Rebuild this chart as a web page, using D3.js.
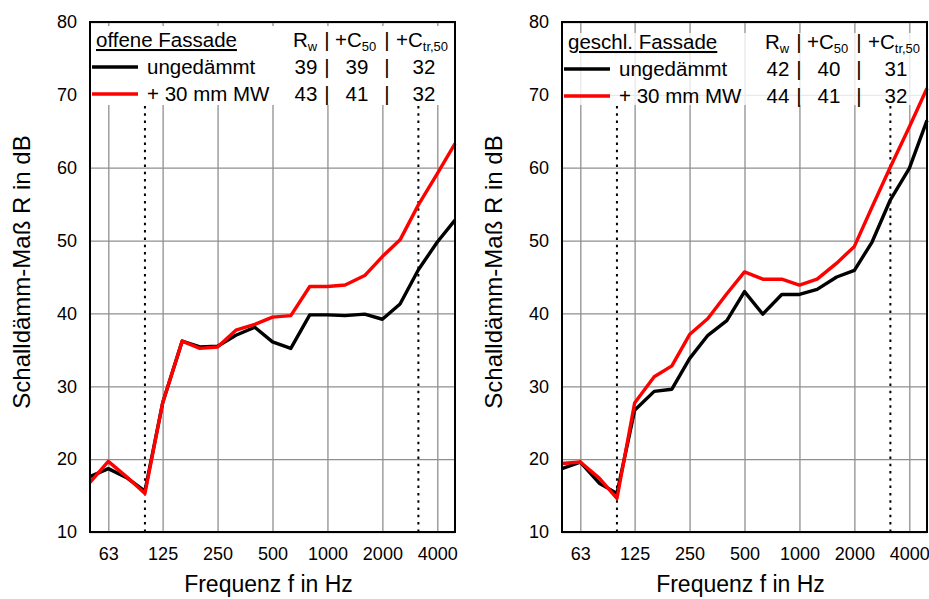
<!DOCTYPE html>
<html>
<head>
<meta charset="utf-8">
<script src="https://cdn.jsdelivr.net/npm/d3@7"></script>
<style>
  html, body { margin: 0; padding: 0; background: #fff; }
  svg { display: block; font-family: "Liberation Sans", Arial, sans-serif; }
</style>
</head>
<body>
<div id="chart"></div>
<script>
// third-octave bands 50 Hz .. 5000 Hz
const FREQS = [50, 63, 80, 100, 125, 160, 200, 250, 315, 400, 500, 630, 800, 1000, 1250, 1600, 2000, 2500, 3150, 4000, 5000];
const X_TICKS = [63, 125, 250, 500, 1000, 2000, 4000];
const Y_TICKS = [10, 20, 30, 40, 50, 60, 70, 80];
const MARK_FREQS = [100, 3150];

// offene Fassade
const OFFEN_UNGED = [17.6, 18.7, 17.4, 15.6, 27.7, 36.2, 35.4, 35.5, 37.0, 38.1, 36.1, 35.2, 39.8, 39.8, 39.7, 39.9, 39.2, 41.3, 46.0, 49.8, 52.8];
const OFFEN_MW    = [16.8, 19.7, 17.5, 15.3, 27.7, 36.2, 35.2, 35.4, 37.7, 38.5, 39.5, 39.7, 43.7, 43.7, 43.9, 45.2, 47.8, 50.1, 54.9, 59.2, 63.3];
// geschlossene Fassade
const GESCHL_UNGED = [18.7, 19.6, 16.7, 15.3, 26.7, 29.3, 29.6, 33.8, 37.0, 39.0, 43.0, 39.9, 42.6, 42.6, 43.3, 45.0, 45.9, 49.8, 55.6, 59.9, 66.5];
const GESCHL_MW    = [19.4, 19.6, 17.4, 14.6, 27.7, 31.3, 32.8, 37.1, 39.3, 42.7, 45.7, 44.7, 44.7, 43.9, 44.7, 46.9, 49.2, 54.6, 60.1, 65.6, 70.9];

// single-number ratings: Rw, +C50, +Ctr,50
const OFFEN_RATINGS_UNGED  = [39, 39, 32];
const OFFEN_RATINGS_MW     = [43, 41, 32];
const GESCHL_RATINGS_UNGED = [42, 40, 31];
const GESCHL_RATINGS_MW    = [44, 41, 32];

const W = 929, H = 599;
const TOP = 22, BOTTOM = 532, PW = 365;

const svg = d3.select("#chart").append("svg")
  .attr("width", W)
  .attr("height", H)
  .attr("viewBox", [0, 0, W, H]);

function drawPanel(p) {
  const L = p.left;
  const g = svg.append("g");

  const x = d3.scaleLog().domain([50, 5000]).range([L, L + PW]);
  const y = d3.scaleLinear().domain([10, 80]).range([BOTTOM, TOP]);

  // grid + tick labels
  const gx = g.append("g")
    .attr("transform", `translate(0,${BOTTOM})`)
    .call(d3.axisBottom(x).tickValues(X_TICKS).tickFormat(d3.format("d"))
      .tickSize(-(BOTTOM - TOP)).tickSizeOuter(0).tickPadding(15));
  const gy = g.append("g")
    .attr("transform", `translate(${L},0)`)
    .call(d3.axisLeft(y).tickValues(Y_TICKS)
      .tickSize(-PW).tickSizeOuter(0).tickPadding(13));

  [gx, gy].forEach(a => {
    a.select(".domain").remove();
    a.selectAll(".tick line").attr("stroke", "#8f8f8f").attr("stroke-width", 1.3);
    a.selectAll(".tick text")
      .attr("font-size", 18)
      .attr("font-family", "Liberation Sans, Arial, sans-serif")
      .attr("fill", "#000");
  });

  // legend background
  g.append("rect")
    .attr("x", L + 1).attr("y", p.bgTop)
    .attr("width", PW - 2).attr("height", 105 - p.bgTop)
    .attr("fill", "#fff")
    .attr("fill-opacity", p.bgOpacity);

  // dotted markers
  MARK_FREQS.forEach(f => {
    g.append("line")
      .attr("x1", x(f)).attr("x2", x(f))
      .attr("y1", 106).attr("y2", BOTTOM)
      .attr("stroke", "#000")
      .attr("stroke-width", 2)
      .attr("stroke-dasharray", "2.5,4.8");
  });

  const line = d3.line()
    .x((d, i) => x(FREQS[i]))
    .y(d => y(d));

  p.series.forEach(s => {
    g.append("path")
      .datum(s.values)
      .attr("fill", "none")
      .attr("stroke", s.color)
      .attr("stroke-width", 3.4)
      .attr("stroke-linejoin", "round")
      .attr("d", line);
  });

  // frame
  g.append("rect")
    .attr("x", L).attr("y", TOP)
    .attr("width", PW).attr("height", BOTTOM - TOP)
    .attr("fill", "none")
    .attr("stroke", "#000")
    .attr("stroke-width", 2);

  // axis titles
  g.append("text")
    .attr("x", L + PW / 2 - 4)
    .attr("y", 592)
    .attr("text-anchor", "middle")
    .attr("font-size", 23)
    .text("Frequenz f in Hz");

  g.append("text")
    .attr("transform", `translate(${L - 60},${(TOP + BOTTOM) / 2 - 5}) rotate(-90)`)
    .attr("text-anchor", "middle")
    .attr("font-size", 24)
    .text("Schalldämm-Maß R in dB");

  // legend
  const lg = g.append("g").attr("font-size", 20.5).attr("fill", "#000");
  const ty = p.legendY;

  lg.append("text")
    .attr("x", L + 6).attr("y", ty)
    .attr("text-decoration", "underline")
    .text(p.title);

  const hdr = [
    { x: L + 203, main: "R", sub: "w" },
    { x: L + 245, main: "+C", sub: "50" },
    { x: L + 306, main: "+C", sub: "tr,50" }
  ];
  hdr.forEach(h => {
    const t = lg.append("text").attr("x", h.x).attr("y", ty).text(h.main);
    t.append("tspan").attr("dy", 4).attr("font-size", 13).text(h.sub);
  });
  [L + 237, L + 297].forEach(bx => {
    lg.append("text").attr("x", bx).attr("y", ty).attr("text-anchor", "middle").text("|");
  });

  p.series.forEach((s, i) => {
    const ry = ty + 27 * (i + 1);
    lg.append("line")
      .attr("x1", L + 2).attr("x2", L + 48)
      .attr("y1", ry - 7).attr("y2", ry - 7)
      .attr("stroke", s.color)
      .attr("stroke-width", 3.4);
    lg.append("text").attr("x", L + 57).attr("y", ry).text(s.label);

    [L + 216, L + 267, L + 334].forEach((cx, k) => {
      lg.append("text").attr("x", cx).attr("y", ry)
        .attr("text-anchor", "middle").text(s.ratings[k]);
    });
    [L + 237, L + 297].forEach(bx => {
      lg.append("text").attr("x", bx).attr("y", ry)
        .attr("text-anchor", "middle").text("|");
    });
  });
}

drawPanel({
  left: 90,
  title: "offene Fassade",
  legendY: 47,
  bgTop: 26,
  bgOpacity: 1,
  series: [
    { label: "ungedämmt",   color: "#000000", values: OFFEN_UNGED, ratings: OFFEN_RATINGS_UNGED },
    { label: "+ 30 mm MW",  color: "#ff0000", values: OFFEN_MW,    ratings: OFFEN_RATINGS_MW }
  ]
});

drawPanel({
  left: 562,
  title: "geschl. Fassade",
  legendY: 49,
  bgTop: 33,
  bgOpacity: 0.8,
  series: [
    { label: "ungedämmt",   color: "#000000", values: GESCHL_UNGED, ratings: GESCHL_RATINGS_UNGED },
    { label: "+ 30 mm MW",  color: "#ff0000", values: GESCHL_MW,    ratings: GESCHL_RATINGS_MW }
  ]
});
</script>
</body>
</html>
